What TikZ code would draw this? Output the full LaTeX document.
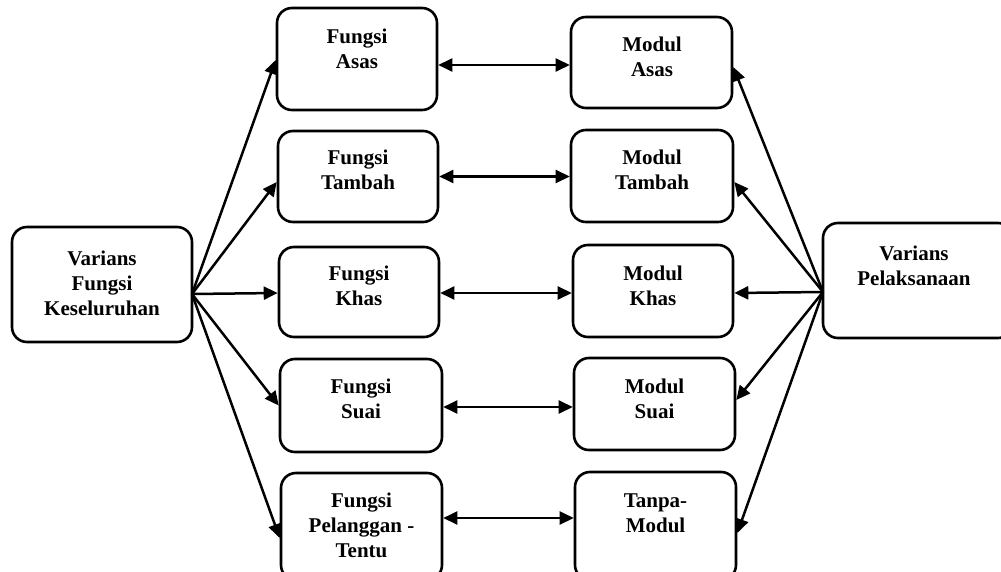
\documentclass[tikz,border=0pt]{standalone}
\usepackage{fontspec}
\setmainfont{Liberation Serif}
\usetikzlibrary{arrows.meta}
\tikzset{
  box/.style={draw, line width=2.6pt, rounded corners=15pt, inner sep=0pt},
  txt/.style={align=center, inner sep=0pt, font=\fontsize{21}{25}\selectfont\bfseries},
  tip/.style={},
  arr/.style={line width=2.5pt, -{Triangle[length=14pt,width=13pt]}},
  dbl/.style={line width=2.5pt, {Triangle[length=14pt,width=13pt]}-{Triangle[length=14pt,width=13pt]}}
}
\begin{document}
\begin{tikzpicture}[x=1pt,y=-1pt]
\useasboundingbox (0,0) rectangle (1001,572);
\clip (0,0) rectangle (1001,572);
% boxes
\node[box, minimum width=180pt, minimum height=115pt] (L) at (102,284.5) {};
\node[box, minimum width=160pt, minimum height=102pt] (fa) at (357,59) {};
\node[box, minimum width=160pt, minimum height=91pt] (ft) at (358,176.5) {};
\node[box, minimum width=160pt, minimum height=90pt] (fk) at (359,292) {};
\node[box, minimum width=162pt, minimum height=93pt] (fs) at (361,405.5) {};
\node[box, minimum width=161pt, minimum height=107pt] (fp) at (361.5,526.5) {};
\node[box, minimum width=161pt, minimum height=91pt] (ma) at (651.5,62.5) {};
\node[box, minimum width=162pt, minimum height=92pt] (mt) at (652,176) {};
\node[box, minimum width=160pt, minimum height=92pt] (mk) at (653,291) {};
\node[box, minimum width=161pt, minimum height=92pt] (ms) at (654.5,404) {};
\node[box, minimum width=161pt, minimum height=108pt] (mn) at (655.5,526) {};
\node[box, minimum width=190pt, minimum height=115pt] (R) at (918,280.5) {};
% texts
\node[txt] (Lt) at (102,283) {Varians\\Fungsi\\Keseluruhan};
\node[txt] (fat) at (357,49) {Fungsi\\Asas};
\node[txt] (ftt) at (358,170) {Fungsi\\Tambah};
\node[txt] (fkt) at (359,286) {Fungsi\\Khas};
\node[txt] (fst) at (361,399) {Fungsi\\Suai};
\node[txt] (fpt) at (361.5,525) {Fungsi\\Pelanggan -\\Tentu};
\node[txt] (mat) at (652,57) {Modul\\Asas};
\node[txt] (mtt) at (652,170) {Modul\\Tambah};
\node[txt] (mkt) at (653,286) {Modul\\Khas};
\node[txt] (mst) at (654.5,399) {Modul\\Suai};
\node[txt] (mnt) at (655.5,513) {Tanpa-\\Modul};
\node[txt] (Rt) at (914,266) {Varians\\Pelaksanaan};
% fan origins
\coordinate (lo) at (192,294);
\coordinate (ro) at (823,292);
% left fan
\draw[arr] (lo) -- ([yshift=-1pt]fa.west);
\draw[arr] (lo) -- ([yshift=-5.5pt]ft.west);
\draw[arr] (lo) -- ([yshift=-1pt]fk.west);
\draw[arr] (lo) -- (fs.west);
\draw[arr] (lo) -- ([yshift=-11.5pt]fp.west);
% right fan
\draw[arr] (ro) -- ([yshift=-4.5pt]ma.east);
\draw[arr] (ro) -- ([yshift=-6pt]mt.east);
\draw[arr] (ro) -- ([yshift=-2pt]mk.east);
\draw[arr] (ro) -- ([yshift=4pt]ms.east);
\draw[arr] (ro) -- ([yshift=-7pt]mn.east);
% middle
\draw[dbl] ([yshift=-6pt]fa.east) -- ([yshift=-6pt]fa.east -| ma.west);
\draw[dbl] ([yshift=0pt]ft.east) -- ([yshift=0pt]ft.east -| mt.west);
\draw[dbl] ([yshift=-1pt]fk.east) -- ([yshift=-1pt]fk.east -| mk.west);
\draw[dbl] ([yshift=-1.5pt]fs.east) -- ([yshift=-1.5pt]fs.east -| ms.west);
\draw[dbl] ([yshift=8.5pt]fp.east) -- ([yshift=8.5pt]fp.east -| mn.west);
\end{tikzpicture}
\end{document}
